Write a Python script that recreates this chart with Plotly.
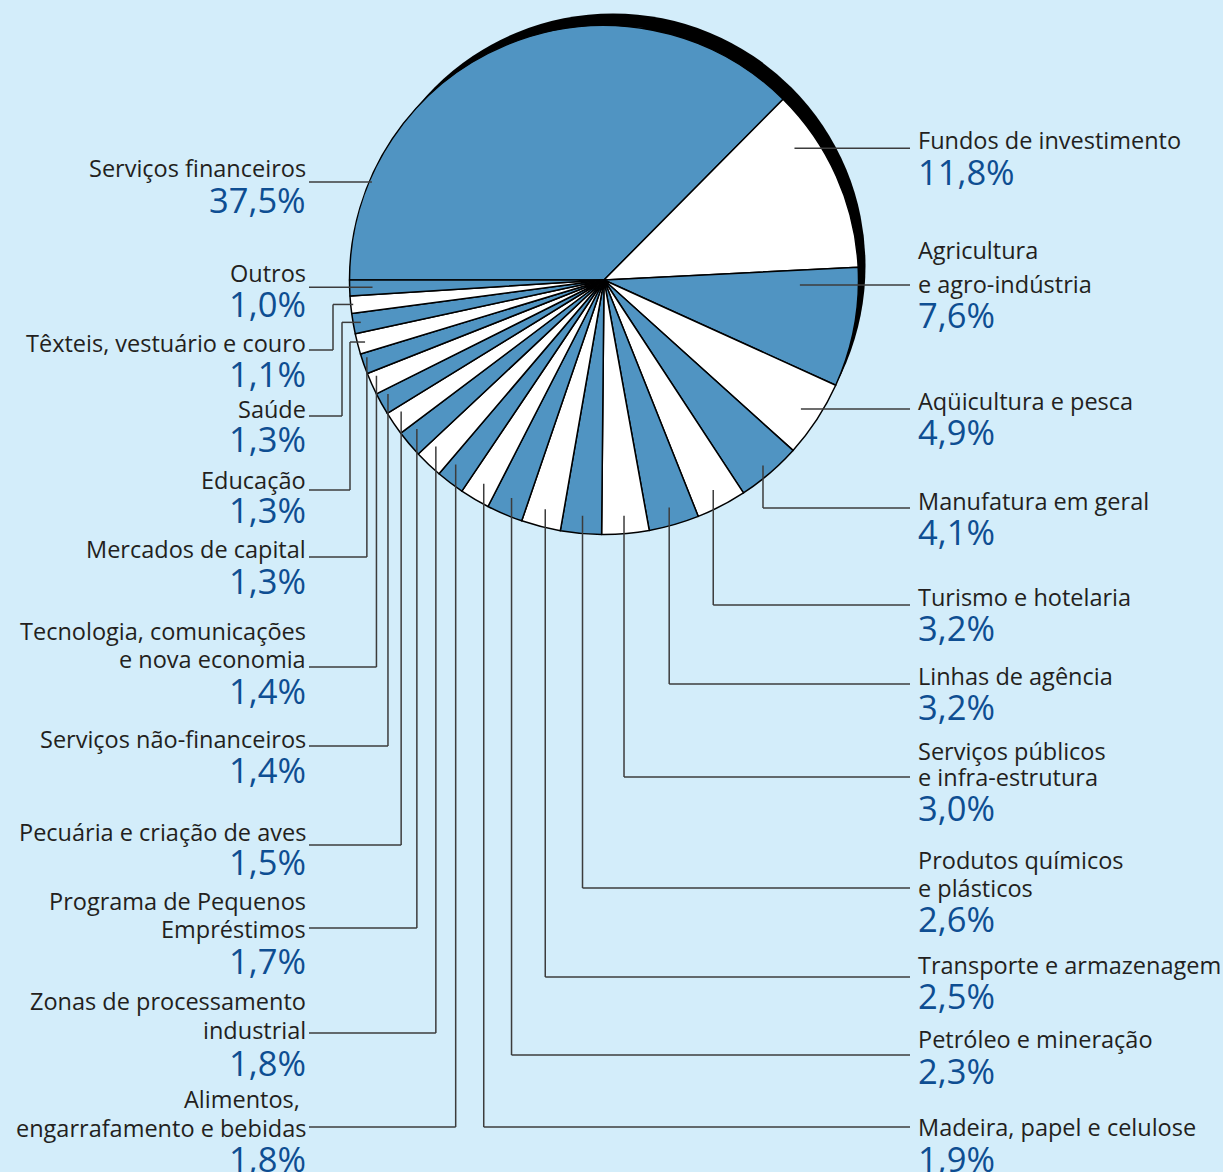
import math
import plotly.graph_objects as go

# ---------------- data ----------------
categories = [
    "Serviços financeiros", "Fundos de investimento", "Agricultura e agro-indústria",
    "Aqüicultura e pesca", "Manufatura em geral", "Turismo e hotelaria",
    "Linhas de agência", "Serviços públicos e infra-estrutura",
    "Produtos químicos e plásticos", "Transporte e armazenagem",
    "Petróleo e mineração", "Madeira, papel e celulose",
    "Alimentos, engarrafamento e bebidas", "Zonas de processamento industrial",
    "Programa de Pequenos Empréstimos", "Pecuária e criação de aves",
    "Serviços não-financeiros", "Tecnologia, comunicações e nova economia",
    "Mercados de capital", "Educação", "Saúde", "Têxteis, vestuário e couro", "Outros",
]
values = [37.5, 11.8, 7.6, 4.9, 4.1, 3.2, 3.2, 3.0, 2.6, 2.5, 2.3, 1.9,
          1.8, 1.8, 1.7, 1.5, 1.4, 1.4, 1.3, 1.3, 1.3, 1.1, 1.0]
label_lines = [
    ["Serviços financeiros"], ["Fundos de investimento"], ["Agricultura", "e agro-indústria"],
    ["Aqüicultura e pesca"], ["Manufatura em geral"], ["Turismo e hotelaria"],
    ["Linhas de agência"], ["Serviços públicos", "e infra-estrutura"],
    ["Produtos químicos", "e plásticos"], ["Transporte e armazenagem"],
    ["Petróleo e mineração"], ["Madeira, papel e celulose"],
    ["Alimentos, ", "engarrafamento e bebidas"], ["Zonas de processamento", "industrial"],
    ["Programa de Pequenos", "Empréstimos"], ["Pecuária e criação de aves"],
    ["Serviços não-financeiros"], ["Tecnologia, comunicações", "e nova economia"],
    ["Mercados de capital"], ["Educação"], ["Saúde"], ["Têxteis, vestuário e couro"], ["Outros"],
]

# ---------------- layout / style ----------------
W, H = 1223, 1172
CX, CY, R = 604, 280, 254.5
SX, SY, RS = 613, 266, 252.5          # shadow disc
BG = "#D3EDFA"
BLUE = "#5094C2"
PCT_COLOR = "#0E4E92"
NAME_COLOR = "#231F20"
LINE_COLOR = "#3C3C3C"
FONT = "Open Sans"
NAME_SIZE = 23.5
PCT_SIZE = 34.5

side = ["L"] + ["R"] * 11 + ["L"] * 11
kind = ["h", "h", "h", "h"] + ["v"] * 15 + ["hv", "hv", "hv", "h"]
slice_pos = [0.17, 0.25, 0.16] + [0.5] * 9 + [0.75] * 7 + [0.5] * 4
r_frac = [0.99, 0.91, 0.77, 0.925, 0.96, 0.93, 0.93, 0.93, 0.93, 0.93, 0.93, 0.93,
          0.93, 0.93, 0.94, 0.95, 0.96, 0.97, 0.98, 0.97, 0.97, 0.99, 0.91]
line_y = [None, None, None, None, 508, 605, 684, 777, 888, 977, 1055, 1127,
          1127, 1033, 928, 845, 746, 667, 557, 490, 416, 350, None]
elbow_x = {19: 350, 20: 342, 21: 333}
name_ys = [[168], [140], [250, 284], [401], [501], [597], [676], [751, 777], [860, 888],
           [965], [1039], [1127], [1099, 1128], [1001, 1030], [901, 929], [832], [739],
           [631, 659], [549], [480], [409], [343], [273]]
pct_ys = [199, 171, 315, 432, 531, 627, 706, 807, 918, 995, 1070, 1158,
          1158, 1062, 960, 862, 769, 690, 580, 510, 439, 374, 304]
LEFT_TEXT_X, RIGHT_TEXT_X = 307, 917
LEFT_LINE_X, RIGHT_LINE_X = 309, 910


def px(x):
    return x / W


def py(y):
    return 1 - y / H


fig = go.Figure()

# shadow disc behind the pie
fig.add_trace(go.Pie(
    values=[1], marker=dict(colors=["black"], line=dict(width=0)),
    domain=dict(x=[px(SX - RS), px(SX + RS)], y=[py(SY + RS), py(SY - RS)]),
    textinfo="none", hoverinfo="skip", showlegend=False, sort=False,
))

colors = [BLUE if i % 2 == 0 else "white" for i in range(len(values))]
fig.add_trace(go.Pie(
    labels=categories, values=values, sort=False, direction="clockwise", rotation=-90,
    marker=dict(colors=colors, line=dict(color="black", width=1.5)),
    domain=dict(x=[px(CX - R), px(CX + R)], y=[py(CY + R), py(CY - R)]),
    textinfo="none", showlegend=False, hovertemplate="%{label}: %{value}%<extra></extra>",
))

total = sum(values)
cum = 0.0
shapes = []
annotations = []


def seg(x0, y0, x1, y1):
    shapes.append(dict(type="line", xref="paper", yref="paper",
                       x0=px(x0), y0=py(y0), x1=px(x1), y1=py(y1),
                       line=dict(color=LINE_COLOR, width=1.5), layer="above"))


for i, v in enumerate(values):
    frac = (cum + slice_pos[i] * v) / total
    cum += v
    ang = math.radians(-90 + frac * 360)
    r = r_frac[i] * R
    ax = CX + r * math.sin(ang)
    ay = CY - r * math.cos(ang)
    end_x = LEFT_LINE_X if side[i] == "L" else RIGHT_LINE_X
    if kind[i] == "h":
        seg(ax, ay, end_x, ay)
    elif kind[i] == "v":
        seg(ax, ay, ax, line_y[i])
        seg(ax, line_y[i], end_x, line_y[i])
    else:
        ex = elbow_x[i]
        seg(ax, ay, ex, ay)
        seg(ex, ay, ex, line_y[i])
        seg(ex, line_y[i], end_x, line_y[i])

    tx = LEFT_TEXT_X if side[i] == "L" else RIGHT_TEXT_X
    xa = "right" if side[i] == "L" else "left"
    for txt, yy in zip(label_lines[i], name_ys[i]):
        annotations.append(dict(x=px(tx), y=py(yy), xref="paper", yref="paper",
                                text=txt, showarrow=False, xanchor=xa, yanchor="middle",
                                borderpad=0,
                                font=dict(family=FONT, size=NAME_SIZE, color=NAME_COLOR)))
    pct = f"{v:.1f}".replace(".", ",") + "%"
    annotations.append(dict(x=px(tx), y=py(pct_ys[i]), xref="paper", yref="paper",
                            text=pct, showarrow=False, xanchor=xa, yanchor="middle",
                            borderpad=0,
                            font=dict(family=FONT, size=PCT_SIZE, color=PCT_COLOR)))

fig.update_layout(
    width=W, height=H, margin=dict(l=0, r=0, t=0, b=0),
    paper_bgcolor=BG, plot_bgcolor=BG,
    shapes=shapes, annotations=annotations, showlegend=False,
)
fig.write_html("out.html", config={"displayModeBar": False},
               post_script="document.body.style.margin='0px';"
                           "document.body.style.overflow='hidden';")
